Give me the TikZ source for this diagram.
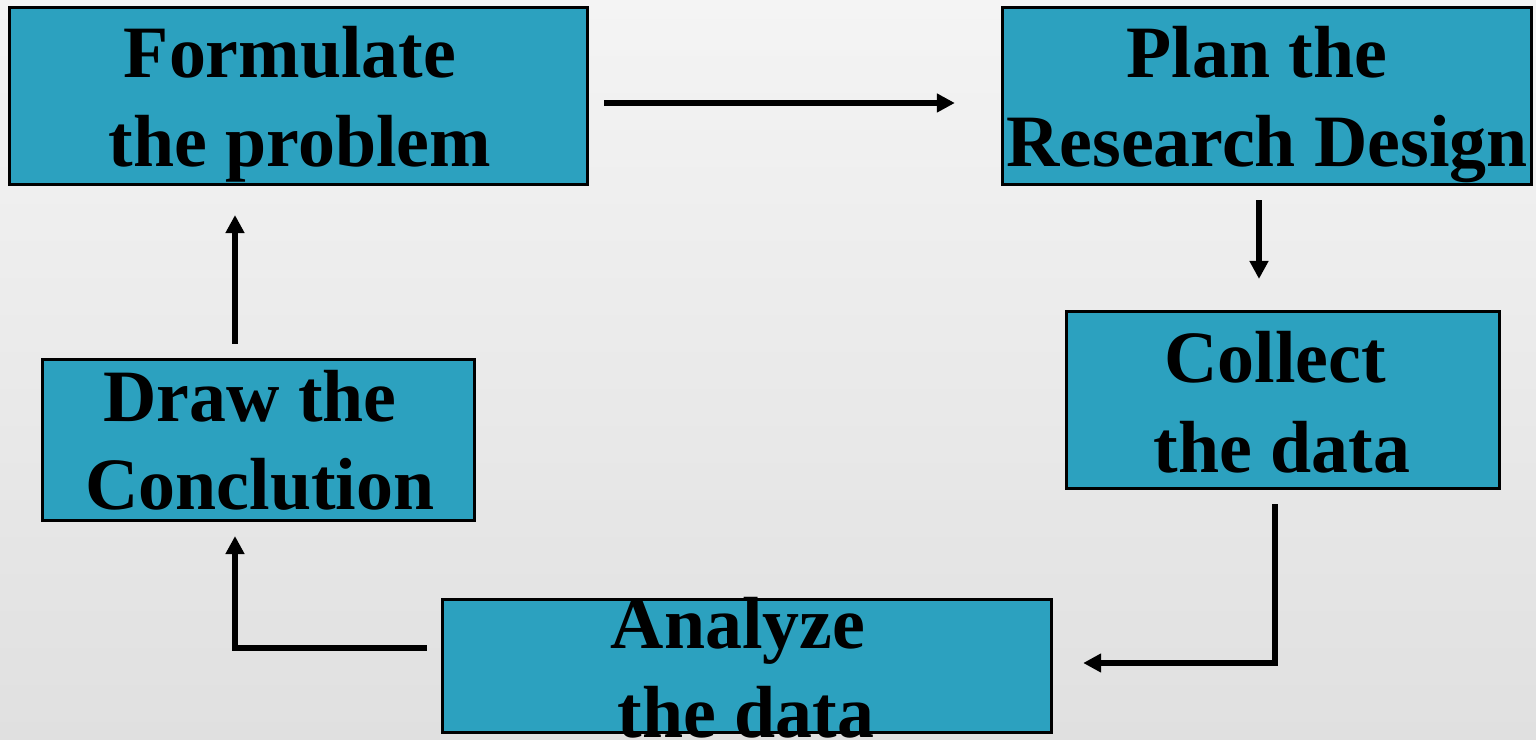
\documentclass[tikz,border=0pt]{standalone}
\usepackage{fontspec}
\setmainfont{Liberation Serif}
\usetikzlibrary{arrows.meta,calc}
\definecolor{boxteal}{RGB}{44,161,191}
\definecolor{bgtop}{RGB}{244,244,244}
\definecolor{bgbot}{RGB}{224,224,224}
\tikzset{
  stagebox/.style={draw=black, line width=0.85pt, fill=boxteal, inner sep=0pt, outer sep=0pt},
  stagetext/.style={anchor=base, inner sep=0pt, font=\fontsize{21}{25}\selectfont\bfseries},
  flow/.style={line width=1.7pt, -{Triangle[length=0.18cm,width=0.18cm]}}
}
\begin{document}
\begin{tikzpicture}[x=0.01cm,y=-0.01cm]
  % background
  \shade[top color=bgtop, bottom color=bgbot] (0,0) rectangle (1536,740);
  \useasboundingbox (0,0) rectangle (1536,740);

  % stage boxes
  \node[stagebox, minimum width=5.77cm, minimum height=1.76cm] (f) at (298.5,96) {};
  \node[stagebox, minimum width=5.28cm, minimum height=1.76cm] (p) at (1267,96) {};
  \node[stagebox, minimum width=4.32cm, minimum height=1.76cm] (c) at (1283,400) {};
  \node[stagebox, minimum width=6.08cm, minimum height=1.32cm] (a) at (747,666) {};
  \node[stagebox, minimum width=4.31cm, minimum height=1.60cm] (d) at (258.5,440) {};

  % box texts
  \node[stagetext] (f1) at (290,78) {Formulate};
  \node[stagetext] (f2) at (300,167) {the problem};
  \node[stagetext] (p1) at (1257,78) {Plan the};
  \node[stagetext] (p2) at (1267,167) {Research Design};
  \node[stagetext] (c1) at (1275,383) {Collect};
  \node[stagetext] (c2) at (1282,472) {the data};
  \node[stagetext] (a1) at (738,649) {Analyze};
  \node[stagetext] (a2) at (746,737) {the data};
  \node[stagetext] (d1) at (250,422) {Draw the};
  \node[stagetext] (d2) at (260,510) {Conclution};

  % connectors
  \draw[flow] ($(f.east)+(17,7)$) -- ($(p.west)+(-48,7)$);
  \draw[flow] ($(p.south)+(-8,16)$) -- ($(c.north)+(-24,-33)$);
  \draw[flow] ($(c.south)+(-8,16)$) |- ($(a.east)+(32,-3)$);
  \draw[flow] ($(a.west)+(-16,-18)$) -| ($(d.south)+(-23.5,16)$);
  \draw[flow] ($(d.north)+(-23.5,-16)$) -- ($(f.south)+(-63.5,31)$);
\end{tikzpicture}
\end{document}
